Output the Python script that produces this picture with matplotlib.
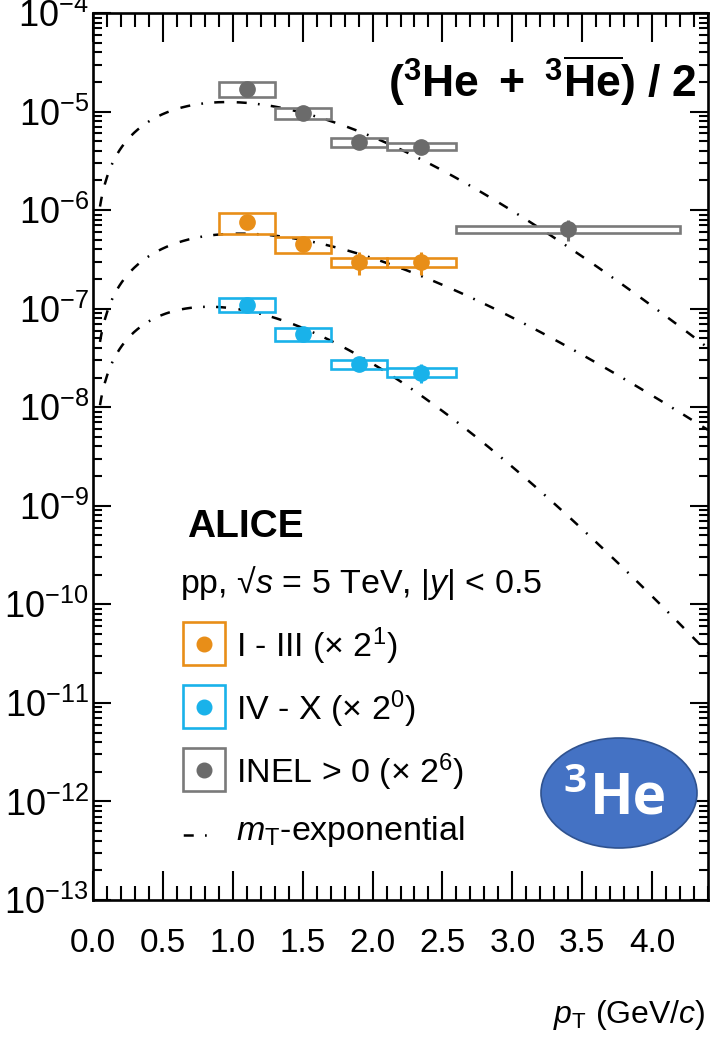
import numpy as np
import matplotlib
matplotlib.use("Agg")
import matplotlib.pyplot as plt
from matplotlib.patches import Rectangle, Ellipse
from matplotlib.lines import Line2D
from matplotlib.ticker import FixedLocator, MultipleLocator, LogLocator, NullFormatter

plt.rcParams["font.family"] = ["Liberation Sans", "DejaVu Sans"]
plt.rcParams["mathtext.fontset"] = "custom"
plt.rcParams["mathtext.rm"] = "Liberation Sans"
plt.rcParams["mathtext.it"] = "Liberation Sans:italic"
plt.rcParams["mathtext.bf"] = "Liberation Sans:bold"

# ---- data: 3He spectra (unscaled), bins in pT (GeV/c) ----
bin_lo = [0.9, 1.3, 1.7, 2.1, 2.6]
bin_hi = [1.3, 1.7, 2.1, 2.6, 4.2]
pt_centre = [1.1, 1.5, 1.9, 2.35, 3.4]

# INEL>0
inel_val = [2.66e-7, 1.50e-7, 7.66e-8, 6.88e-8, 1.00e-8]
inel_syst = [4.7e-8, 2.0e-8, 7.8e-9, 5.6e-9, 8.6e-10]
inel_stat = [2.3e-8, 1.2e-8, 4.7e-9, 4.7e-9, 2.4e-9]
inel_scale = 2 ** 6

# Multiplicity classes I-III
hm_val = [3.75e-7, 2.25e-7, 1.48e-7, 1.48e-7]
hm_syst = [9.0e-8, 4.0e-8, 1.5e-8, 1.5e-8]
hm_stat = [2.5e-8, 1.5e-8, 3.9e-8, 3.9e-8]
hm_scale = 2 ** 1

# Multiplicity classes IV-X
lm_val = [1.10e-7, 5.5e-8, 2.75e-8, 2.25e-8]
lm_syst = [1.7e-8, 8.0e-9, 2.8e-9, 2.3e-9]
lm_stat = [6.0e-9, 3.0e-9, 4.0e-9, 5.0e-9]
lm_scale = 2 ** 0

# m_T-exponential fit parameters (normalisation, slope T in GeV)
inel_fit = (3.4e-7, 0.310)
hm_fit = (4.6e-7, 0.369)
lm_fit = (2.1e-7, 0.235)
mass_he3 = 2.80839

x_ticks = [0.0, 0.5, 1.0, 1.5, 2.0, 2.5, 3.0, 3.5, 4.0]
y_decades = list(range(-13, -3))

c_orange = "#E88E18"
c_blue = "#19B2EA"
c_gray = "#6B6B6B"
c_gray_box = "#7A7A7A"

W, H = 718, 1045
fig = plt.figure(figsize=(W / 100, H / 100), dpi=100)


def fx(px):
    return px / W


def fy(py):
    return 1 - py / H


ax = fig.add_axes([fx(93), fy(900), fx(708) - fx(93), fy(13) - fy(900)])
ax.set_yscale("log")
ax.set_xlim(0, 4.4)
ax.set_ylim(1e-13, 1e-4)

dash_seq = (4, 5, 4, 4.5, 0.7, 4.5)
curve_lw = 1.8


def mt_exp(pt, norm, slope):
    mt = np.sqrt(pt ** 2 + mass_he3 ** 2)
    return norm * pt * np.exp(-(mt - mass_he3) / slope)


pt_grid = np.linspace(0.05, 4.4, 500)
for (norm, slope), scale in [(inel_fit, inel_scale), (hm_fit, hm_scale), (lm_fit, lm_scale)]:
    ax.plot(pt_grid, mt_exp(pt_grid, norm, slope) * scale, color="black",
            lw=curve_lw, linestyle=(0, dash_seq), zorder=2)


def draw_series(vals, syst, stat, scale, color, box_color):
    n = len(vals)
    for i in range(n):
        v = vals[i] * scale
        s = syst[i] * scale
        ax.add_patch(Rectangle((bin_lo[i], v - s), bin_hi[i] - bin_lo[i], 2 * s,
                               facecolor="none", edgecolor=box_color, lw=1.9, zorder=3))
    ax.errorbar(pt_centre[:n], np.array(vals) * scale, yerr=np.array(stat) * scale,
                fmt="o", ms=11, color=color, mec=color, elinewidth=2.2, capsize=0, zorder=4)


draw_series(inel_val, inel_syst, inel_stat, inel_scale, c_gray, c_gray_box)
draw_series(hm_val, hm_syst, hm_stat, hm_scale, c_orange, c_orange)
draw_series(lm_val, lm_syst, lm_stat, lm_scale, c_blue, c_blue)

# axes styling
for sp in ax.spines.values():
    sp.set_linewidth(1.9)
ax.xaxis.set_major_locator(FixedLocator(x_ticks))
ax.xaxis.set_minor_locator(MultipleLocator(0.1))
ax.set_xticklabels([f"{t:.1f}" for t in x_ticks])
ax.yaxis.set_major_locator(FixedLocator([10.0 ** d for d in y_decades]))
ax.yaxis.set_minor_locator(LogLocator(base=10, subs=np.arange(2, 10), numticks=30))
ax.yaxis.set_minor_formatter(NullFormatter())
ax.set_yticklabels([r"$10^{%d}$" % d for d in y_decades])
ax.tick_params(axis="both", which="both", direction="in", top=True, right=True, width=1.5)
ax.tick_params(axis="x", which="major", length=21, labelsize=24, pad=20)
ax.tick_params(axis="x", which="minor", length=10)
ax.tick_params(axis="y", which="major", length=13, labelsize=26, pad=3)
ax.tick_params(axis="y", which="minor", length=6.5)

# title
fig.text(fx(697), fy(97), r"$\mathbf{(^{3}He\ +\ ^{3}\overline{He})\ /\ 2}$",
         fontsize=32, ha="right", va="baseline")

# legend block
fig.text(fx(187), fy(537), "ALICE", fontsize=28, fontweight="bold", ha="left", va="baseline")
fig.text(fx(180), fy(593), r"pp, √$s$ = 5 TeV, |$y$| < 0.5", fontsize=24.5,
         ha="left", va="baseline")

entries = [
    (c_orange, c_orange, r"I - III (× 2$^{1}$)", 622, 657),
    (c_blue, c_blue, r"IV - X (× 2$^{0}$)", 685, 720),
    (c_gray, c_gray_box, r"INEL > 0 (× 2$^{6}$)", 748, 783),
]
for mcol, bcol, label, top, base in entries:
    fig.patches.append(Rectangle((fx(183), fy(top + 43)), fx(42), 43 / H,
                                 transform=fig.transFigure, facecolor="none",
                                 edgecolor=bcol, lw=1.9))
    fig.add_artist(Line2D([fx(204)], [fy(top + 21.5)], marker="o", ms=10.5,
                          color=mcol, transform=fig.transFigure))
    fig.text(fx(236), fy(base), label, fontsize=24.5, ha="left", va="baseline")

fig.add_artist(Line2D([fx(182), fx(214)], [fy(835), fy(835)], color="black", lw=curve_lw,
                      linestyle=(8.5, dash_seq), transform=fig.transFigure))
fig.text(fx(236), fy(840), r"$m_{\mathrm{T}}$-exponential", fontsize=24.5,
         ha="left", va="baseline")

# axis title
fig.text(fx(705), fy(1023), r"$p_{\mathrm{T}}$ (GeV/$c$)", fontsize=23,
         ha="right", va="baseline")

# nucleus badge
fig.patches.append(Ellipse((fx(619), fy(793)), fx(156), 110 / H, transform=fig.transFigure,
                           facecolor="#4472C4", edgecolor="#2F528F", lw=1.2))
fig.text(fx(563), fy(792), "3", fontsize=29, fontweight="bold", color="white",
         family="Open Sans", ha="left", va="baseline")
fig.text(fx(590), fy(813), "He", fontsize=41, fontweight="bold", color="white",
         family="Open Sans", ha="left", va="baseline")

fig.savefig("out.png", dpi=100)
